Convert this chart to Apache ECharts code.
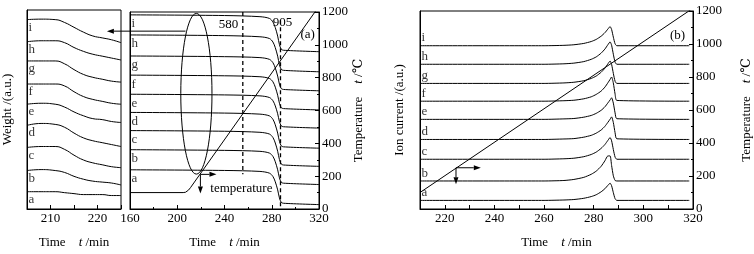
<!DOCTYPE html>
<html>
<head>
<meta charset="utf-8">
<script src="https://cdn.jsdelivr.net/npm/echarts@6/dist/echarts.min.js"></script>
<style>
  html, body { margin: 0; padding: 0; background: #fff; }
  #chart { width: 754px; height: 254px; }
</style>
</head>
<body>
<div id="chart"></div>
<script>
// sample names, bottom curve first
const curveNames = ['a', 'b', 'c', 'd', 'e', 'f', 'g', 'h', 'i'];

// zoomed weight curves, 205-225 min
const zoomTime = [205, 208, 211, 213, 215, 217, 219, 221, 223, 225];
const zoomWeight = [
  [18, 18, 18, 17, 16, 15, 15, 15, 14, 14],
  [40, 41, 40, 38, 34, 31, 29, 28, 27, 25],
  [64, 65, 65, 62, 56, 51, 48, 46, 44, 43],
  [87, 89, 88, 85, 79, 74, 71, 69, 67, 65],
  [109, 110, 109, 106, 101, 97, 94, 93, 91, 90],
  [130, 130, 130, 128, 122, 117, 114, 112, 110, 109],
  [154, 154, 154, 151, 145, 140, 137, 135, 133, 132],
  [174, 175, 175, 173, 168, 164, 161, 159, 157, 155],
  [197, 197.5, 197, 194, 189, 184, 180, 178, 176, 173]
];

// (a) weight curves, 160-320 min
const tgTime = [160, 240, 270, 278, 281, 283, 285, 286.5, 288, 290, 320];
const tgWeight = [
  [41, 40.3, 39.3, 37.5, 34, 28.4, 20, 11.6, 7, 6, 4.6],
  [62, 61.3, 60.3, 58.5, 55, 49.4, 41, 32.6, 28, 27, 25.6],
  [82, 81.3, 80.2, 78.4, 74.8, 69, 60.4, 51.8, 47.1, 46, 44.6],
  [101, 100.3, 99.2, 97.4, 93.8, 88, 79.4, 70.8, 66.1, 65, 63.6],
  [120, 119.3, 118.3, 116.6, 113.2, 107.8, 99.6, 91.4, 87, 86, 84.6],
  [140, 139.3, 138.3, 136.5, 133, 127.4, 119, 110.6, 106, 105, 103.6],
  [160, 159.3, 158.3, 156.5, 153, 147.4, 139, 130.6, 126, 125, 123.6],
  [182, 181.3, 180.1, 178.3, 174.6, 168.7, 159.8, 150.9, 146.1, 145, 143.5],
  [203, 202.3, 201.1, 199.3, 195.6, 189.7, 180.8, 171.9, 167.1, 166, 164.5]
];
const tempTimeA = [160, 205, 207, 208.2, 209.5, 211.2, 320];
const tempA = [100, 100, 102, 107, 115, 130, 1235];
const markTemps = [580, 905];
const markTimes = [255.5, 287.4];

// (b) ion current curves, 210-320 min
const ionTime = [210, 260, 268, 272, 276, 279, 281, 283, 284.5, 285.7, 286.6, 287.2, 287.9, 288.6, 289.3, 318.5];
const ionCurrent = [
  [9, 9, 9.4, 9.9, 11.2, 13, 14.9, 18, 21.2, 24.7, 27, 24.3, 17.1, 10.8, 9, 9],
  [29.3, 29.3, 29.8, 30.9, 33.1, 36.3, 39.6, 44.7, 50.4, 55.5, 55.5, 45.5, 34.7, 29.8, 29.3, 29.3],
  [52, 52, 52.5, 53.1, 54.7, 57, 59.5, 63.4, 67.4, 71.7, 74.7, 71.3, 62.2, 54.3, 52, 52],
  [72.7, 72.7, 73.2, 73.6, 75.1, 77, 79.3, 82.6, 86.4, 90.6, 93.9, 96.3, 90.4, 79.8, 73.4, 72.7],
  [93.7, 93.7, 94.2, 94.6, 96, 97.8, 100, 103.2, 106.8, 110.9, 114, 116.3, 110.7, 100.5, 94.4, 93.7],
  [112.7, 112.7, 113.2, 113.7, 115.2, 117.3, 119.8, 123.3, 127.4, 131.9, 135.5, 138, 131.7, 120.3, 113.5, 112.7],
  [131.3, 131.3, 131.8, 132.5, 134.1, 136.5, 139, 143, 147.2, 151.7, 154.7, 151.2, 141.8, 133.6, 131.3, 131.3],
  [151.3, 151.3, 151.8, 152.5, 154.1, 156.5, 159, 163, 167.2, 171.7, 174.7, 171.2, 161.8, 153.6, 151.3, 151.3],
  [170.7, 170.7, 171.1, 171.7, 173.1, 175.1, 177.3, 180.7, 184.3, 188.1, 190.7, 187.7, 179.7, 172.7, 170.7, 170.7]
];
const tempTimeB = [210, 320];
const tempB = [100, 1217];

const serif = '"Liberation Serif", "Times New Roman", "DejaVu Serif", serif';
const ink = '#000';
const txt = { fontFamily: serif, fontSize: 12, color: ink };
const titleStyle = { fontFamily: serif, fontSize: 13, color: ink, rich: { i: { fontFamily: serif, fontSize: 13, fontStyle: 'italic', color: ink } } };

function curve(xi, yi, times, vals, smooth) {
  return {
    type: 'line', xAxisIndex: xi, yAxisIndex: yi, symbol: 'none', smooth: smooth,
    silent: true, lineStyle: { color: ink, width: 1 },
    data: times.map((t, k) => [t, vals[k]])
  };
}

function letters(xi, yi, t0, series, off) {
  return {
    type: 'scatter', xAxisIndex: xi, yAxisIndex: yi, symbolSize: 1, silent: true,
    itemStyle: { color: 'transparent' },
    data: curveNames.map((n, k) => [t0, series[k][0] + off, n]),
    label: { show: true, position: 'right', distance: 1, formatter: p => p.data[2], ...txt, fontSize: 13 }
  };
}

function xAx(grid, min, max, interval, labelEvery, minor) {
  return {
    type: 'value', gridIndex: grid, min: min, max: max, interval: interval,
    name: 'Time    {i|t} /min', nameLocation: 'middle', nameGap: 27, nameTextStyle: titleStyle,
    axisLine: { lineStyle: { color: ink } },
    axisTick: { inside: true, length: 4, lineStyle: { color: ink } },
    minorTick: { show: minor, splitNumber: 2, length: 2, lineStyle: { color: ink } },
    axisLabel: { ...txt, fontSize: 13, margin: 3, formatter: v => (v % labelEvery === 0 ? String(v) : '') },
    splitLine: { show: false }
  };
}

function hiddenY(grid, max, name, gap) {
  return {
    type: 'value', gridIndex: grid, min: 0, max: max,
    name: name, nameLocation: 'middle', nameGap: gap, nameTextStyle: titleStyle,
    axisLine: { show: true, lineStyle: { color: ink } },
    axisTick: { show: false }, axisLabel: { show: false }, splitLine: { show: false }
  };
}

function tempY(grid, gap) {
  return {
    type: 'value', gridIndex: grid, position: 'right', min: 0, max: 1200, interval: 200,
    name: 'Temperature    {i|t} /℃', nameLocation: 'middle', nameGap: gap, nameTextStyle: titleStyle,
    axisLine: { show: true, lineStyle: { color: ink } },
    axisTick: { inside: true, length: 4, lineStyle: { color: ink } },
    minorTick: { show: true, splitNumber: 2, length: 2, lineStyle: { color: ink } },
    axisLabel: { ...txt, fontSize: 13, margin: 3, formatter: v => String(v) },
    splitLine: { show: false }
  };
}

const series = [];
zoomWeight.forEach(v => series.push(curve(0, 0, zoomTime, v, true)));
tgWeight.forEach(v => series.push(curve(1, 1, tgTime, v, 0.3)));
series.push(curve(1, 2, tempTimeA, tempA, false));
ionCurrent.forEach(v => series.push(curve(2, 3, ionTime, v, 0.2)));
series.push(curve(2, 4, tempTimeB, tempB, false));
// dashed markers at 580 and 905 degC
[[1200, 211], [1150, 0]].forEach((span, k) => {
  series.push({
    type: 'line', xAxisIndex: 1, yAxisIndex: 2, symbol: 'none', silent: true,
    lineStyle: { color: ink, width: 1.3, type: [4, 3] },
    data: span.map(v => [markTimes[k], v])
  });
});
series.push(letters(0, 0, zoomTime[0], zoomWeight, -8));
series.push(letters(1, 1, tgTime[0], tgWeight, -9.5));
series.push(letters(2, 3, ionTime[0], ionCurrent, 8));

const option = {
  animation: false,
  backgroundColor: '#fff',
  textStyle: { fontFamily: serif },
  grid: [
    { left: 27, top: 10, width: 94, height: 207, show: true, borderColor: ink, borderWidth: 1 },
    { left: 130, top: 12, width: 189, height: 206, show: true, borderColor: ink, borderWidth: 1 },
    { left: 420, top: 11, width: 275, height: 207, show: true, borderColor: ink, borderWidth: 1 }
  ],
  xAxis: [
    xAx(0, 205, 225, 5, 10, false),
    xAx(1, 160, 320, 40, 40, true),
    xAx(2, 210, 320, 10, 20, false)
  ],
  yAxis: [
    hiddenY(0, 207, 'Weight /(a.u.)', 13),
    hiddenY(1, 206, '', 0),
    tempY(1, 32),
    hiddenY(2, 207, 'Ion current /(a.u.)', 14),
    tempY(2, 47)
  ],
  series: series
};

const chart = echarts.init(document.getElementById('chart'));
chart.setOption(option);

// annotations placed through the axes
const pA = v => chart.convertToPixel({ xAxisIndex: 1, yAxisIndex: 1 }, v);
const pAT = v => chart.convertToPixel({ xAxisIndex: 1, yAxisIndex: 2 }, v);
const pZ = v => chart.convertToPixel({ xAxisIndex: 0, yAxisIndex: 0 }, v);
const pBT = v => chart.convertToPixel({ xAxisIndex: 2, yAxisIndex: 4 }, v);

function arrow(from, to) {
  const dx = to[0] - from[0], dy = to[1] - from[1];
  const len = Math.hypot(dx, dy), ux = dx / len, uy = dy / len;
  const bx = to[0] - ux * 7, by = to[1] - uy * 7;
  return [
    { type: 'line', shape: { x1: from[0], y1: from[1], x2: bx, y2: by }, style: { stroke: ink, lineWidth: 1 } },
    { type: 'polygon', shape: { points: [to, [bx - uy * 2.5, by + ux * 2.5], [bx + uy * 2.5, by - ux * 2.5]] }, style: { fill: ink } }
  ];
}

function label(pos, text, align) {
  return { type: 'text', x: pos[0], y: pos[1], style: { text: text, font: '13px ' + serif, fill: ink, align: align || 'center', verticalAlign: 'middle' } };
}

const c = pA([216.2, 120.5]);
const e1 = pA([229.4, 204.5]);
const graphics = [
  { type: 'ellipse', shape: { cx: c[0], cy: c[1], rx: e1[0] - c[0], ry: c[1] - e1[1] }, style: { fill: 'none', stroke: ink, lineWidth: 1 } },
  ...arrow(pA([207, 186]), pZ([222, 185])),
  ...arrow(pAT([219.6, 211]), pAT([219.6, 94])),
  ...arrow(pAT([219.6, 211]), pAT([233.2, 211])),
  ...arrow(pBT([224.5, 250]), pBT([224.5, 150])),
  ...arrow(pBT([224.5, 250]), pBT([234.5, 250])),
  label(pAT([228, 123]), 'temperature', 'left'),
  label(pAT([243.4, 1126]), String(markTemps[0])),
  label(pAT([289.1, 1136]), String(markTemps[1])),
  label(pAT([310.4, 1061]), '(a)'),
  label(pBT([313.8, 1051]), '(b)')
];
chart.setOption({ graphic: graphics });
</script>
</body>
</html>
